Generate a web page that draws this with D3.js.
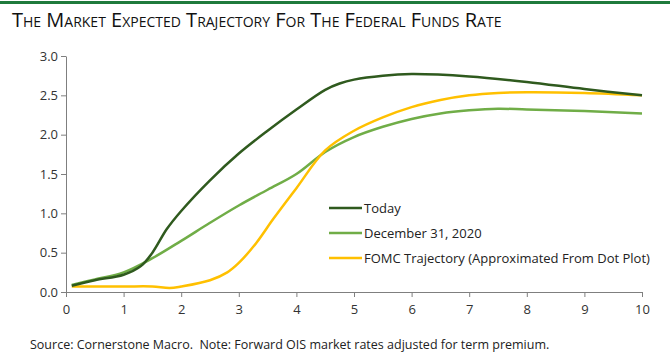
<!DOCTYPE html>
<html>
<head>
<meta charset="utf-8">
<script src="https://cdn.jsdelivr.net/npm/d3@7"></script>
<style>
body { margin: 0; background: #fff; }
svg { display: block; font-family: "Open Sans", sans-serif; }
</style>
</head>
<body>
<script>
var w = 670;
var h = 354;

// years ahead
var todayX = [0.1, 0.5, 1, 1.3, 1.5, 1.75, 2, 2.5, 3, 3.5, 4, 4.5, 4.75, 5, 5.5, 6, 7, 8, 9, 10];
var todayY = [0.08, 0.15, 0.22, 0.33, 0.5, 0.8, 1.03, 1.42, 1.76, 2.05, 2.32, 2.57, 2.65, 2.7, 2.75, 2.77, 2.74, 2.67, 2.58, 2.5];

var decX = [0.1, 0.5, 1, 1.5, 2, 2.5, 3, 3.5, 4, 4.5, 5, 5.5, 6, 6.5, 7, 7.5, 8, 9, 10];
var decY = [0.09, 0.16, 0.25, 0.43, 0.65, 0.88, 1.1, 1.3, 1.5, 1.78, 1.97, 2.1, 2.2, 2.27, 2.31, 2.33, 2.32, 2.3, 2.27];

var fomcX = [0.1, 1, 1.5, 1.8, 2, 2.5, 2.8, 3, 3.3, 3.6, 4, 4.5, 5, 5.5, 6, 6.5, 7, 7.5, 8, 9, 10];
var fomcY = [0.07, 0.07, 0.07, 0.05, 0.07, 0.15, 0.25, 0.37, 0.62, 0.93, 1.32, 1.8, 2.05, 2.22, 2.35, 2.44, 2.5, 2.53, 2.54, 2.53, 2.5];

var xTicks = [0, 1, 2, 3, 4, 5, 6, 7, 8, 9, 10];
var yTicks = [0, 0.5, 1, 1.5, 2, 2.5, 3];

var seriesNames = ["Today", "December 31, 2020", "FOMC Trajectory (Approximated From Dot Plot)"];
var colors = ["#2f5a1e", "#70ad47", "#ffc000"];

var svg = d3.select("body").append("svg")
    .attr("width", w)
    .attr("height", h);

// top rule
svg.append("rect")
    .attr("x", 0).attr("y", 1)
    .attr("width", w).attr("height", 3)
    .attr("fill", "#1f7a3c");

svg.append("text")
    .attr("x", 12)
    .attr("y", 27)
    .attr("font-size", "20px")
    .attr("font-variant", "small-caps")
    .attr("fill", "#111")
    .text("The Market Expected Trajectory For The Federal Funds Rate");

var xScale = d3.scaleLinear().domain([0, 10]).range([66, 642]);
var yScale = d3.scaleLinear().domain([0, 3]).range([292, 56]);

var xAxis = d3.axisBottom(xScale).tickValues(xTicks).tickSize(5).tickSizeOuter(0)
    .tickFormat(d3.format("d"));
var yAxis = d3.axisLeft(yScale).tickValues(yTicks).tickSize(5).tickSizeOuter(0)
    .tickFormat(d3.format(".1f"));

var gx = svg.append("g")
    .attr("class", "x axis")
    .attr("transform", "translate(0," + yScale(0) + ")")
    .call(xAxis);

var gy = svg.append("g")
    .attr("class", "y axis")
    .attr("transform", "translate(" + xScale(0) + ",0)")
    .call(yAxis);

svg.selectAll(".axis path, .axis line").attr("stroke", "#7f7f7f");
svg.selectAll(".axis text")
    .attr("font-family", "Open Sans, sans-serif")
    .attr("font-size", "13px")
    .attr("fill", "#333");
gx.selectAll("text").attr("dy", "1.1em");
gy.selectAll("text").attr("x", -8);

var line = d3.line()
    .x(function(d) { return xScale(d[0]); })
    .y(function(d) { return yScale(d[1]); })
    .curve(d3.curveCatmullRom.alpha(0.5));

var series = [
    d3.zip(todayX, todayY),
    d3.zip(decX, decY),
    d3.zip(fomcX, fomcY)
];

// draw december first, then fomc, then today on top
[1, 2, 0].forEach(function(i) {
    svg.append("path")
        .datum(series[i])
        .attr("d", line)
        .attr("fill", "none")
        .attr("stroke", colors[i])
        .attr("stroke-width", 2.5);
});

// legend
var legend = svg.append("g").attr("transform", "translate(329,208)");
seriesNames.forEach(function(name, i) {
    var g = legend.append("g").attr("transform", "translate(0," + (i * 25) + ")");
    g.append("line")
        .attr("x1", 0).attr("x2", 33)
        .attr("stroke", colors[i])
        .attr("stroke-width", 2.5);
    g.append("text")
        .attr("x", 35)
        .attr("dy", "0.35em")
        .attr("font-size", "13px")
        .attr("fill", "#222")
        .text(name);
});

svg.append("text")
    .attr("x", 30)
    .attr("y", 349)
    .attr("font-size", "12.5px")
    .attr("fill", "#222")
    .style("white-space", "pre")
    .text("Source: Cornerstone Macro.  Note: Forward OIS market rates adjusted for term premium.");
</script>
</body>
</html>
